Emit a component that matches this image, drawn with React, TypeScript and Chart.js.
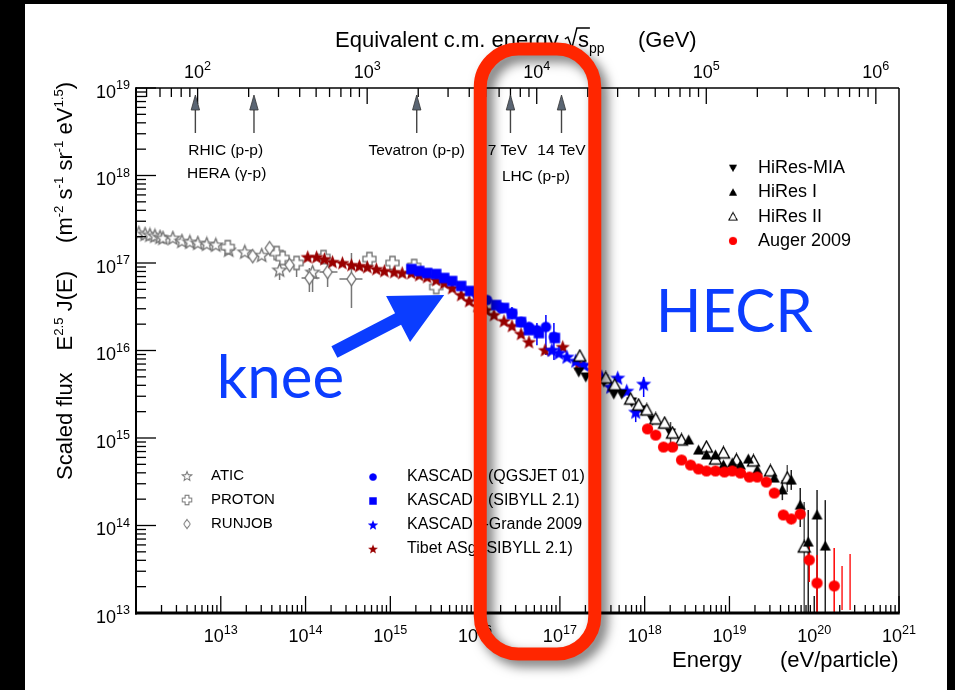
import React, { useEffect, useRef } from "react";
import { Chart, registerables } from "chart.js";

Chart.register(...registerables);

const FONT = '"Liberation Sans", Arial, Helvetica, sans-serif';
const BIG_FONT = 'Lato, "Open Sans", sans-serif';

// ---------- axis ranges ----------
const energyMin = 1e12;
const energyMax = 1e21;
const fluxMin = 1e13;
const fluxMax = 1e19;
const protonMassGeV = 0.938;
const bottomDecades = [13, 14, 15, 16, 17, 18, 19, 20, 21];
const leftDecades = [13, 14, 15, 16, 17, 18, 19];
const topDecades = [2, 3, 4, 5, 6];

// ---------- data (E in eV, scaled flux) ----------
const aticE = [1.08e12, 1.28e12, 1.46e12, 1.67e12, 1.92e12, 2.08e12, 2.72e12, 3.48e12, 4.32e12, 5.36e12, 6.84e12, 8.73e12, 1.24e13, 1.92e13, 3.04e13, 4.94e13, 1.21e14];
const aticF = [2.2e17, 2.14e17, 2.09e17, 2.04e17, 1.98e17, 1.93e17, 1.93e17, 1.78e17, 1.74e17, 1.69e17, 1.65e17, 1.61e17, 1.41e17, 1.34e17, 1.23e17, 8.32e16, 7.89e16];
const aticErr = [[15, 9.49e16, 6.4e16], [16, 9.0e16, 4.66e16]];

const protonE = [1.21e13, 4.56e13, 5.36e13, 7.84e13, 1.63e14, 5.66e14, 1.06e15, 1.91e15, 3.48e15];
const protonF = [1.52e17, 1.3e17, 1.14e17, 1.0e17, 1.17e17, 1.11e17, 1.0e17, 9.25e16, 5.32e16];
const protonErr = [[3, 1.17e17, 6.92e16]];

const runjobE = [2.38e13, 3.77e13, 6.48e13, 1.11e14, 1.82e14, 3.48e14];
const runjobF = [1.2e17, 1.48e17, 9.49e16, 6.74e16, 7.89e16, 6.56e16];
const runjobErr = [
  [3, 8.77e16, 4.66e16, 8.97e13, 1.46e14],
  [4, 1.03e17, 5.32e16, 1.46e14, 2.38e14],
  [5, 1.3e17, 3.06e16, 2.51e14, 4.69e14],
];

const tibetE = [1.06e14, 1.35e14, 1.67e14, 2.08e14, 2.72e14, 3.48e14, 4.32e14, 5.36e14, 6.84e14, 8.5e14, 1.11e15, 1.38e15, 1.77e15, 2.19e15, 2.72e15, 3.48e15, 4.32e15, 5.36e15, 6.84e15, 8.5e15, 1.06e16, 1.35e16, 1.67e16, 2.19e16, 2.72e16, 3.48e16, 4.32e16, 6.67e16, 1.08e17, 1.67e17];
const tibetF = [1.17e17, 1.17e17, 1.11e17, 1.03e17, 1.0e17, 9.49e16, 9.25e16, 9.0e16, 8.53e16, 8.11e16, 7.89e16, 7.69e16, 7.69e16, 7.29e16, 6.92e16, 6.4e16, 5.91e16, 5.18e16, 4.31e16, 3.68e16, 3.23e16, 2.9e16, 2.55e16, 2.17e16, 1.91e16, 1.55e16, 1.25e16, 1.01e16, 1.1e16, 7.01e15];

const kascadeSE = [1.77e15, 2.19e15, 2.72e15, 3.48e15, 4.32e15, 5.36e15, 6.84e15, 8.73e15, 1.11e16, 1.77e16, 2.19e16, 2.72e16, 3.48e16, 4.32e16, 5.66e16, 8.73e16];
const kascadeSF = [8.53e16, 8.11e16, 7.69e16, 7.48e16, 6.74e16, 6.22e16, 5.46e16, 4.79e16, 4.09e16, 3.31e16, 3.06e16, 2.61e16, 2.12e16, 1.71e16, 1.58e16, 1.39e16];

const kascadeQE = [1.06e16, 1.38e16, 2.02e16, 2.72e16, 3.48e16, 4.32e16, 5.36e16, 6.84e16, 8.5e16];
const kascadeQF = [4.31e16, 3.78e16, 3.06e16, 2.68e16, 2.12e16, 1.86e16, 1.71e16, 1.86e16, 1.43e16];
const kascadeQErr = [[3, 3.14e16, 2.3e16], [6, 2.06e16, 1.15e16], [7, 2.55e16, 8.89e15], [8, 2.06e16, 7.79e15]];

const grandeE = [8.05e16, 9.73e16, 1.21e17, 1.54e17, 1.92e17, 2.44e17, 3.12e17, 3.98e17, 4.81e17, 6.14e17, 7.84e17, 9.73e17];
const grandeF = [1.01e16, 9.35e15, 8.43e15, 7.59e15, 6.83e15, 5.98e15, 4.98e15, 3.83e15, 4.85e15, 3.44e15, 1.98e15, 4.14e15];
const grandeErr = [[10, 2.38e15, 1.52e15], [11, 4.98e15, 2.94e15]];

const hiresMiaE = [1.67e17, 2.02e17, 3.3e17, 4.32e17, 5.36e17, 7.03e17, 9.47e17, 1.24e18, 2.02e18];
const hiresMiaF = [5.68e15, 4.98e15, 4.37e15, 3.18e15, 3.18e15, 2.58e15, 2.09e15, 1.61e15, 1.14e15];
const hiresMiaErr = [[8, 1.52e15, 6.92e14]];

const hiresIE = [3.3e18, 4.32e18, 5.36e18, 6.84e18, 8.5e18, 1.08e19, 1.35e19, 1.67e19, 2.13e19, 3.38e19, 4.21e19, 5.36e19, 6.84e19, 8.5e19, 1.08e20, 1.35e20];
const hiresIF = [9.49e14, 7.29e14, 6.4e14, 6.4e14, 4.91e14, 5.18e14, 4.91e14, 5.75e14, 4.31e14, 3.49e14, 2.55e14, 3.31e14, 1.71e14, 6.47e13, 1.32e14, 5.83e13];
const hiresIErr = [[10, 3.31e14, 1.95e14], [11, 4.31e14, 2.55e14], [12, 2.68e14, 9.62e13], [13, 1.5e14, 1e12], [14, 2.55e14, 1e12], [15, 1.95e14, 1e12]];

const hiresIIE = [1.72e17, 3.48e17, 4.44e17, 6.84e17, 8.5e17, 1.06e18, 1.35e18, 1.72e18, 2.13e18, 2.72e18, 5.36e18, 6.84e18, 8.5e18, 1.21e19, 1.92e19, 3.04e19, 4.81e19, 7.62e19];
const hiresIIF = [8.65e15, 4.85e15, 4.04e15, 2.79e15, 2.38e15, 2.09e15, 1.65e15, 1.48e15, 1.14e15, 9.49e14, 7.89e14, 5.75e14, 6.75e14, 5.61e14, 5.46e14, 4.2e14, 3.49e14, 5.68e13];
const hiresIIErr = [[16, 4.91e14, 2.42e14], [17, 1.86e14, 1e12]];

const augerE = [1.08e18, 1.35e18, 1.67e18, 2.13e18, 2.72e18, 3.48e18, 4.32e18, 5.36e18, 6.84e18, 8.73e18, 1.08e19, 1.35e19, 1.72e19, 2.13e19, 2.72e19, 3.38e19, 4.32e19, 5.36e19, 6.84e19, 8.73e19, 1.08e20, 1.72e20];
const augerF = [1.27e15, 1.08e15, 7.89e14, 7.89e14, 5.61e14, 4.91e14, 4.43e14, 4.2e14, 4.2e14, 4.09e14, 4.2e14, 3.98e14, 3.58e14, 3.58e14, 3.14e14, 2.35e14, 1.32e14, 1.19e14, 1.35e14, 4.04e13, 2.2e13, 2.04e13];
const augerErr = [[16, 1.4e14, 1.25e14], [17, 1.31e14, 1.03e14], [18, 1.49e14, 1.18e14], [19, 5.98e13, 2.26e13], [20, 4.6e13, 1e12], [21, 5.53e13, 1e12]];
const augerBarE = [2.13e20, 2.65e20];
const augerBarHi = [3.44e13, 4.72e13];
const augerBarLo = [1.08e13, 1.08e13];

// ---------- annotations ----------
const colliderSqrtS = [97, 215, 1960, 7000, 14000];
const legendLeft = ["ATIC", "PROTON", "RUNJOB"];
const legendMid = ["KASCADE (QGSJET 01)", "KASCADE (SIBYLL 2.1)", "KASCADE-Grande 2009", "Tibet ASg (SIBYLL 2.1)"];
const legendRight = ["HiRes-MIA", "HiRes I", "HiRes II", "Auger 2009"];
const highlightE = [1.15e16, 2.58e17];
const kneeArrowE = [2.19e14, 4.32e15];
const kneeArrowF = [9.6e15, 4.31e16];
const kneeLabelAt = [8.98e12, 2.87e15];
const hecrLabelAt = [1.35e18, 1.63e16];

const GRAY = "#6e6e6e";
const BLUE = "#0000ff";
const DARKRED = "#990000";

type Seg = { t: string; k?: "sup" | "sub"; gap?: number };

function drawRich(ctx: CanvasRenderingContext2D, segs: Seg[], x: number, y: number, size: number, align: string, supRatio = 0.7, supRaise = 0.45) {
  const widths = segs.map((s) => {
    ctx.font = `${s.k ? size * supRatio : size}px ${FONT}`;
    return ctx.measureText(s.t).width + (s.gap || 0);
  });
  const total = widths.reduce((a, b) => a + b, 0);
  let cx = align === "left" ? x : align === "center" ? x - total / 2 : x - total;
  segs.forEach((s, i) => {
    ctx.font = `${s.k ? size * supRatio : size}px ${FONT}`;
    const dy = s.k === "sup" ? -size * supRaise : s.k === "sub" ? size * 0.28 : 0;
    ctx.fillText(s.t, cx + (s.gap || 0), y + dy);
    cx += widths[i];
  });
  return total;
}

function mk(w: number, h: number, draw: (g: CanvasRenderingContext2D, cx: number, cy: number) => void) {
  const c = document.createElement("canvas");
  c.width = w;
  c.height = h;
  const g = c.getContext("2d")!;
  draw(g, w / 2, h / 2);
  return c;
}

function starPath(g: CanvasRenderingContext2D, cx: number, cy: number, R: number, r: number) {
  g.beginPath();
  for (let i = 0; i < 10; i++) {
    const a = -Math.PI / 2 + (i * Math.PI) / 5;
    const rr = i % 2 === 0 ? R : r;
    const px = cx + rr * Math.cos(a);
    const py = cy + rr * Math.sin(a);
    if (i === 0) g.moveTo(px, py);
    else g.lineTo(px, py);
  }
  g.closePath();
}

function makeMarkers() {
  const atic = mk(17, 17, (g, cx, cy) => {
    starPath(g, cx, cy + 0.5, 7, 3);
    g.fillStyle = "#fff";
    g.fill();
    g.strokeStyle = GRAY;
    g.lineWidth = 1.3;
    g.stroke();
  });
  const proton = mk(17, 17, (g, cx, cy) => {
    const a = 6.5, b = 2.6;
    g.beginPath();
    const pts = [[-b, -a], [b, -a], [b, -b], [a, -b], [a, b], [b, b], [b, a], [-b, a], [-b, b], [-a, b], [-a, -b], [-b, -b]];
    pts.forEach(([px, py], i) => (i ? g.lineTo(cx + px, cy + py) : g.moveTo(cx + px, cy + py)));
    g.closePath();
    g.fillStyle = "#fff";
    g.fill();
    g.strokeStyle = GRAY;
    g.lineWidth = 1.3;
    g.stroke();
  });
  const runjob = mk(13, 17, (g, cx, cy) => {
    g.beginPath();
    g.moveTo(cx, cy - 6.5);
    g.lineTo(cx + 4.5, cy);
    g.lineTo(cx, cy + 6.5);
    g.lineTo(cx - 4.5, cy);
    g.closePath();
    g.fillStyle = "#fff";
    g.fill();
    g.strokeStyle = GRAY;
    g.lineWidth = 1.3;
    g.stroke();
  });
  const tibet = mk(17, 17, (g, cx, cy) => {
    starPath(g, cx, cy + 0.5, 7.5, 3.2);
    g.fillStyle = DARKRED;
    g.fill();
  });
  const grande = mk(19, 19, (g, cx, cy) => {
    starPath(g, cx, cy + 0.5, 8, 3.4);
    g.fillStyle = BLUE;
    g.fill();
  });
  const kasQ = mk(13, 13, (g, cx, cy) => {
    g.beginPath();
    g.arc(cx, cy, 5.3, 0, Math.PI * 2);
    g.fillStyle = BLUE;
    g.fill();
  });
  const kasS = mk(13, 13, (g, cx, cy) => {
    g.fillStyle = BLUE;
    g.fillRect(cx - 5.2, cy - 5.2, 10.4, 10.4);
  });
  const mia = mk(13, 13, (g, cx, cy) => {
    g.beginPath();
    g.moveTo(cx - 5.5, cy - 4.5);
    g.lineTo(cx + 5.5, cy - 4.5);
    g.lineTo(cx, cy + 5.5);
    g.closePath();
    g.fillStyle = "#000";
    g.fill();
  });
  const hiresI = mk(13, 13, (g, cx, cy) => {
    g.beginPath();
    g.moveTo(cx, cy - 5.5);
    g.lineTo(cx + 5.5, cy + 4.5);
    g.lineTo(cx - 5.5, cy + 4.5);
    g.closePath();
    g.fillStyle = "#000";
    g.fill();
  });
  const hiresII = mk(15, 15, (g, cx, cy) => {
    g.beginPath();
    g.moveTo(cx, cy - 6);
    g.lineTo(cx + 6, cy + 5);
    g.lineTo(cx - 6, cy + 5);
    g.closePath();
    g.fillStyle = "#fff";
    g.fill();
    g.strokeStyle = "#000";
    g.lineWidth = 1.4;
    g.stroke();
  });
  const auger = mk(13, 13, (g, cx, cy) => {
    g.beginPath();
    g.arc(cx, cy, 5.6, 0, Math.PI * 2);
    g.fillStyle = "#ff0000";
    g.fill();
  });
  return { atic, proton, runjob, tibet, grande, kasQ, kasS, mia, hiresI, hiresII, auger };
}

function pts(E: number[], F: number[]) {
  return E.map((x, i) => ({ x, y: F[i] }));
}

export default function App() {
  const ref = useRef<HTMLCanvasElement>(null);

  useEffect(() => {
    const canvas = ref.current!;
    const M = makeMarkers();
    const sMin = Math.sqrt(2 * protonMassGeV * (energyMin / 1e9));
    const sMax = Math.sqrt(2 * protonMassGeV * (energyMax / 1e9));

    const mkDs = (label: string, E: number[], F: number[], style: HTMLCanvasElement) => ({
      label,
      data: pts(E, F),
      pointStyle: style as any,
      pointRadius: 6,
      pointHoverRadius: 6,
      showLine: false,
    });

    const errorSets: { E: number[]; F: number[]; errs: number[][]; color: string }[] = [
      { E: aticE, F: aticF, errs: aticErr, color: "#777" },
      { E: protonE, F: protonF, errs: protonErr, color: "#777" },
      { E: runjobE, F: runjobF, errs: runjobErr, color: "#777" },
      { E: kascadeQE, F: kascadeQF, errs: kascadeQErr, color: BLUE },
      { E: grandeE, F: grandeF, errs: grandeErr, color: BLUE },
      { E: hiresMiaE, F: hiresMiaF, errs: hiresMiaErr, color: "#444" },
      { E: hiresIIE, F: hiresIIF, errs: hiresIIErr, color: "#555" },
      { E: hiresIE, F: hiresIF, errs: hiresIErr, color: "#222" },
      { E: augerE, F: augerF, errs: augerErr, color: "#ff0000" },
    ];

    const bgPlugin = {
      id: "bg",
      beforeDraw(chart: any) {
        const ctx = chart.ctx as CanvasRenderingContext2D;
        ctx.save();
        ctx.fillStyle = "#000";
        ctx.fillRect(0, 0, chart.width, chart.height);
        ctx.fillStyle = "#fff";
        ctx.fillRect(25, 4, chart.width - 33, chart.height - 4);
        ctx.restore();
      },
    };

    const errPlugin = {
      id: "errbars",
      beforeDatasetsDraw(chart: any) {
        const ctx = chart.ctx as CanvasRenderingContext2D;
        const xs = chart.scales.x, ys = chart.scales.y;
        const a = chart.chartArea;
        ctx.save();
        ctx.beginPath();
        ctx.rect(a.left, a.top, a.right - a.left, a.bottom - a.top);
        ctx.clip();
        ctx.lineWidth = 1.5;
        errorSets.forEach((s) => {
          ctx.strokeStyle = s.color;
          s.errs.forEach((e) => {
            const i = e[0];
            const px = xs.getPixelForValue(s.E[i]);
            const py = ys.getPixelForValue(s.F[i]);
            ctx.beginPath();
            ctx.moveTo(px, ys.getPixelForValue(e[1]));
            ctx.lineTo(px, ys.getPixelForValue(e[2]));
            if (e.length > 3) {
              ctx.moveTo(xs.getPixelForValue(e[3]), py);
              ctx.lineTo(xs.getPixelForValue(e[4]), py);
            }
            ctx.stroke();
          });
        });
        ctx.strokeStyle = "#ff2020";
        augerBarE.forEach((x, i) => {
          const px = xs.getPixelForValue(x);
          ctx.beginPath();
          ctx.moveTo(px, ys.getPixelForValue(augerBarHi[i]));
          ctx.lineTo(px, ys.getPixelForValue(augerBarLo[i]));
          ctx.stroke();
        });
        ctx.restore();
      },
    };

    const axesPlugin = {
      id: "axesdraw",
      afterDraw(chart: any) {
        const ctx = chart.ctx as CanvasRenderingContext2D;
        const xs = chart.scales.x, ys = chart.scales.y, x2 = chart.scales.x2;
        const { left, right, top, bottom } = chart.chartArea;
        ctx.save();
        ctx.strokeStyle = "#000";
        ctx.fillStyle = "#000";
        const line = (x1: number, y1: number, x2_: number, y2: number, w: number) => {
          ctx.lineWidth = w;
          ctx.beginPath();
          ctx.moveTo(x1, y1);
          ctx.lineTo(x2_, y2);
          ctx.stroke();
        };
        // frame
        line(left, top, right, top, 1.5);
        line(right, top, right, bottom, 1.5);
        line(left, top - 0.75, left, bottom + 1.5, 2);
        line(left - 1, bottom, right + 0.75, bottom, 3);

        // bottom ticks
        for (let n = 12; n <= 21; n++) {
          for (let m = 1; m <= 9; m++) {
            const v = m * Math.pow(10, n);
            if (v < energyMin || v > energyMax) continue;
            const px = xs.getPixelForValue(v);
            line(px, bottom, px, bottom - (m === 1 ? 17 : 8), 1.3);
          }
        }
        // left ticks
        for (let n = 13; n <= 19; n++) {
          for (let m = 1; m <= 9; m++) {
            const v = m * Math.pow(10, n);
            if (v < fluxMin || v > fluxMax) continue;
            const py = ys.getPixelForValue(v);
            line(left, py, left + (m === 1 ? 20 : 10), py, 1.3);
          }
        }
        // top ticks
        for (let n = 1; n <= 6; n++) {
          for (let m = 1; m <= 9; m++) {
            const v = m * Math.pow(10, n);
            if (v < x2.min || v > x2.max) continue;
            const px = x2.getPixelForValue(v);
            line(px, top, px, top + (m === 1 ? 16 : 9), 1.3);
          }
        }

        ctx.textBaseline = "alphabetic";
        bottomDecades.forEach((n) => {
          const px = xs.getPixelForValue(Math.pow(10, n));
          drawRich(ctx, [{ t: "10" }, { t: String(n), k: "sup" }], px, bottom + 29, 18, "center");
        });
        leftDecades.forEach((n) => {
          const py = ys.getPixelForValue(Math.pow(10, n));
          drawRich(ctx, [{ t: "10" }, { t: String(n), k: "sup" }], left - 6, py + 9.5, 18, "right");
        });
        topDecades.forEach((n) => {
          const px = x2.getPixelForValue(Math.pow(10, n));
          drawRich(ctx, [{ t: "10" }, { t: String(n), k: "sup" }], px, top - 10, 18, "center");
        });

        // top axis title with sqrt(s_pp)
        {
          const y = top - 41;
          let x = left + 199;
          ctx.font = `22px ${FONT}`;
          const t1 = "Equivalent c.m. energy ";
          ctx.fillText(t1, x, y);
          x += ctx.measureText(t1).width;
          const sW = ctx.measureText("s").width;
          ctx.lineWidth = 1.4;
          ctx.beginPath();
          ctx.moveTo(x, y - 8);
          ctx.lineTo(x + 3, y - 10);
          ctx.lineTo(x + 7, y + 1);
          ctx.lineTo(x + 12, y - 19);
          ctx.lineTo(x + 13 + sW + 1, y - 19);
          ctx.stroke();
          x += 13;
          ctx.fillText("s", x, y);
          x += sW;
          ctx.font = `14px ${FONT}`;
          ctx.fillText("pp", x, y + 6);
          ctx.font = `22px ${FONT}`;
          ctx.fillText("(GeV)", left + 502, y);
        }

        // bottom titles
        ctx.font = `22px ${FONT}`;
        ctx.fillText("Energy", left + 536, bottom + 54);
        ctx.fillText("(eV/particle)", left + 644, bottom + 54);

        // y title
        ctx.save();
        ctx.translate(left - 64, bottom - 133);
        ctx.rotate(-Math.PI / 2);
        drawRich(
          ctx,
          [
            { t: "Scaled flux" },
            { t: "E", gap: 22 },
            { t: "2.5", k: "sup" },
            { t: " J(E)" },
            { t: "(m", gap: 28 },
            { t: "-2", k: "sup" },
            { t: " s" },
            { t: "-1", k: "sup" },
            { t: " sr" },
            { t: "-1", k: "sup" },
            { t: " eV" },
            { t: "1.5", k: "sup" },
            { t: ")" },
          ],
          0,
          0,
          22,
          "left",
          0.6,
          0.42
        );
        ctx.restore();

        // collider arrows on top axis
        const ax = colliderSqrtS.map((s) => x2.getPixelForValue(s));
        ax.forEach((px) => {
          ctx.strokeStyle = "#444";
          line(px, top + 45, px, top + 18, 1.4);
          ctx.beginPath();
          ctx.moveTo(px, top + 7);
          ctx.lineTo(px + 4.2, top + 22);
          ctx.lineTo(px - 4.2, top + 22);
          ctx.closePath();
          ctx.fillStyle = "#5a6573";
          ctx.fill();
          ctx.lineWidth = 0.8;
          ctx.strokeStyle = "#333";
          ctx.stroke();
        });
        ctx.fillStyle = "#000";
        ctx.font = `15.5px ${FONT}`;
        ctx.textAlign = "center";
        ctx.fillText("RHIC (p-p)", (ax[0] + ax[1]) / 2 + 1, top + 67);
        ctx.fillText("HERA (\u03b3-p)", (ax[0] + ax[1]) / 2 + 2, top + 90);
        ctx.fillText("Tevatron (p-p)", ax[2], top + 67);
        ctx.fillText("7 TeV", ax[3] - 3, top + 67);
        ctx.fillText("14 TeV", ax[4], top + 67);
        ctx.fillText("LHC (p-p)", (ax[3] + ax[4]) / 2, top + 93);
        ctx.textAlign = "left";

        // legends
        ctx.textBaseline = "middle";
        const leg = (img: HTMLCanvasElement, mx: number, my: number, s: number) => {
          ctx.drawImage(img, mx - (img.width * s) / 2, my - (img.height * s) / 2, img.width * s, img.height * s);
        };
        const lm = [M.atic, M.proton, M.runjob];
        ctx.font = `15px ${FONT}`;
        legendLeft.forEach((t, i) => {
          const y = bottom - 137 + i * 24;
          leg(lm[i], left + 51, y, 0.72);
          ctx.fillStyle = "#000";
          ctx.fillText(t, left + 75, y);
        });
        const mm = [M.kasQ, M.kasS, M.grande, M.tibet];
        ctx.font = `16px ${FONT}`;
        legendMid.forEach((t, i) => {
          const y = bottom - 136 + i * 24;
          leg(mm[i], left + 237, y, mm[i] === M.kasQ || mm[i] === M.kasS ? 0.72 : 0.68);
          ctx.fillStyle = "#000";
          ctx.fillText(t, left + 271, y);
        });
        const rm = [M.mia, M.hiresI, M.hiresII, M.auger];
        ctx.font = `18px ${FONT}`;
        legendRight.forEach((t, i) => {
          const y = top + 80 + i * 24.3;
          leg(rm[i], left + 597, y, rm[i] === M.hiresII ? 0.7 : 0.75);
          ctx.fillStyle = "#000";
          ctx.fillText(t, left + 622, y);
        });
        ctx.textBaseline = "alphabetic";

        // big labels
        const KB = "#0b3dff";
        ctx.fillStyle = KB;
        ctx.font = `60px ${BIG_FONT}`;
        ctx.fillText("knee", xs.getPixelForValue(kneeLabelAt[0]), ys.getPixelForValue(kneeLabelAt[1]));
        ctx.fillText("HECR", xs.getPixelForValue(hecrLabelAt[0]), ys.getPixelForValue(hecrLabelAt[1]));

        // knee arrow
        {
          const tx = xs.getPixelForValue(kneeArrowE[0]), ty = ys.getPixelForValue(kneeArrowF[0]);
          const hx = xs.getPixelForValue(kneeArrowE[1]), hy = ys.getPixelForValue(kneeArrowF[1]);
          const dx = hx - tx, dy = hy - ty;
          const L = Math.hypot(dx, dy);
          const ux = dx / L, uy = dy / L;
          const nx = -uy, ny = ux;
          const sw = 6.5, hl = 52, hw = 26;
          const bx = hx - ux * hl, by = hy - uy * hl;
          ctx.beginPath();
          ctx.moveTo(tx + nx * sw, ty + ny * sw);
          ctx.lineTo(bx + nx * sw, by + ny * sw);
          ctx.lineTo(bx + nx * hw, by + ny * hw);
          ctx.lineTo(hx, hy);
          ctx.lineTo(bx - nx * hw, by - ny * hw);
          ctx.lineTo(bx - nx * sw, by - ny * sw);
          ctx.lineTo(tx - nx * sw, ty - ny * sw);
          ctx.closePath();
          ctx.fill();
        }

        // highlight box
        {
          const x1 = xs.getPixelForValue(highlightE[0]);
          const x2p = xs.getPixelForValue(highlightE[1]);
          const y1 = top - 39, y2 = bottom + 41;
          const r = 38;
          ctx.save();
          ctx.shadowColor = "rgba(0,0,0,0.55)";
          ctx.shadowBlur = 12;
          ctx.shadowOffsetX = 6;
          ctx.shadowOffsetY = 6;
          ctx.strokeStyle = "#ff2600";
          ctx.lineWidth = 13;
          ctx.beginPath();
          ctx.moveTo(x1 + r, y1);
          ctx.lineTo(x2p - r, y1);
          ctx.arcTo(x2p, y1, x2p, y1 + r, r);
          ctx.lineTo(x2p, y2 - r);
          ctx.arcTo(x2p, y2, x2p - r, y2, r);
          ctx.lineTo(x1 + r, y2);
          ctx.arcTo(x1, y2, x1, y2 - r, r);
          ctx.lineTo(x1, y1 + r);
          ctx.arcTo(x1, y1, x1 + r, y1, r);
          ctx.closePath();
          ctx.stroke();
          ctx.restore();
        }
        ctx.restore();
      },
    };

    const chart = new Chart(canvas, {
      type: "scatter",
      data: {
        datasets: [
          mkDs("Auger 2009", augerE, augerF, M.auger),
          mkDs("HiRes I", hiresIE, hiresIF, M.hiresI),
          mkDs("HiRes II", hiresIIE, hiresIIF, M.hiresII),
          mkDs("HiRes-MIA", hiresMiaE, hiresMiaF, M.mia),
          mkDs("KASCADE-Grande 2009", grandeE, grandeF, M.grande),
          mkDs("KASCADE (QGSJET 01)", kascadeQE, kascadeQF, M.kasQ),
          mkDs("KASCADE (SIBYLL 2.1)", kascadeSE, kascadeSF, M.kasS),
          mkDs("Tibet ASg (SIBYLL 2.1)", tibetE, tibetF, M.tibet),
          mkDs("RUNJOB", runjobE, runjobF, M.runjob),
          mkDs("PROTON", protonE, protonF, M.proton),
          mkDs("ATIC", aticE, aticF, M.atic),
        ] as any,
      },
      options: {
        responsive: false,
        animation: false,
        devicePixelRatio: 1,
        layout: { padding: { left: 136, top: 88, right: 56, bottom: 77 } },
        plugins: { legend: { display: false }, tooltip: { enabled: false } },
        scales: {
          x: { type: "logarithmic", min: energyMin, max: energyMax, display: false },
          y: { type: "logarithmic", min: fluxMin, max: fluxMax, display: false },
          x2: { type: "logarithmic", axis: "x", position: "top", min: sMin, max: sMax, display: false },
        } as any,
      },
      plugins: [bgPlugin, errPlugin, axesPlugin],
    });
    return () => chart.destroy();
  }, []);

  return (
    <div style={{ position: "fixed", left: 0, top: 0, width: 955, height: 690, background: "#000" }}>
      <canvas ref={ref} width={955} height={690} style={{ display: "block", width: 955, height: 690 }} />
    </div>
  );
}
